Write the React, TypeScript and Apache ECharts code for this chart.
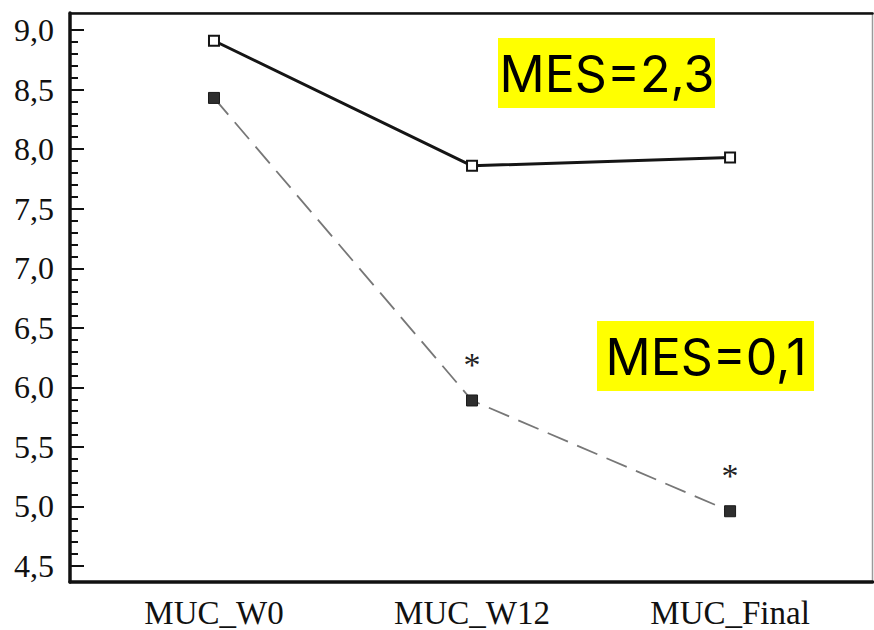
import React, { useEffect, useRef } from "react";
import * as echarts from "echarts";

const categories = ["MUC_W0", "MUC_W12", "MUC_Final"];
const mes23Values = [8.91, 7.86, 7.93];
const mes01Values = [8.43, 5.89, 4.96];
const significant = [false, true, true];
const yTickLabels = [4.5, 5.0, 5.5, 6.0, 6.5, 7.0, 7.5, 8.0, 8.5, 9.0];
const annotations = ["MES=2,3", "MES=0,1"];

const minorTicks: number[] = [];
for (let i = 0; i < yTickLabels.length - 1; i++) {
  for (let k = 1; k < 5; k++) minorTicks.push(Math.round((yTickLabels[i] + k * 0.1) * 10) / 10);
}

export default function App() {
  const ref = useRef<HTMLDivElement>(null);
  useEffect(() => {
    if (!ref.current) return;
    const chart = echarts.init(ref.current, null, { renderer: "svg" });
    const Y_MIN = 4.366;
    const Y_MAX = 9.143;
    const X_MIN = -0.558;
    const X_MAX = 2.552;
    const serif = "Liberation Serif";
    const rect = { left: 70, right: 1.5, top: 13, bottom: 48 };
    chart.setOption({
      animation: false,
      backgroundColor: "#ffffff",
      grid: [
        { ...rect, show: true, borderColor: "#9a9a9a", borderWidth: 1.5, backgroundColor: "transparent" },
        { ...rect },
      ],
      xAxis: [
        {
          type: "value",
          gridIndex: 0,
          min: X_MIN,
          max: X_MAX,
          position: "bottom",
          axisLine: { show: true, onZero: false, lineStyle: { color: "#111", width: 3.5 } },
          axisTick: { show: false },
          splitLine: { show: false },
          axisLabel: {
            customValues: [0, 1, 2],
            formatter: (v: number) => categories[Math.round(v)] ?? "",
            fontFamily: serif,
            fontSize: 33,
            color: "#111",
            margin: 14,
          },
        },
        {
          type: "value",
          gridIndex: 0,
          min: X_MIN,
          max: X_MAX,
          position: "top",
          axisLine: { show: true, onZero: false, lineStyle: { color: "#111", width: 2.5 } },
          axisTick: { show: false },
          axisLabel: { show: false },
          splitLine: { show: false },
        },
        {
          type: "value",
          gridIndex: 1,
          min: X_MIN,
          max: X_MAX,
          show: false,
        },
      ],
      yAxis: [
        {
          type: "value",
          gridIndex: 0,
          min: Y_MIN,
          max: Y_MAX,
          position: "left",
          axisLine: { show: true, onZero: false, lineStyle: { color: "#111", width: 3.5 } },
          axisTick: {
            show: true,
            inside: true,
            length: 8,
            customValues: minorTicks,
            lineStyle: { color: "#111", width: 2 },
          },
          axisLabel: { show: false },
          splitLine: { show: false },
        },
        {
          type: "value",
          gridIndex: 1,
          min: Y_MIN,
          max: Y_MAX,
          position: "left",
          axisLine: { show: false, onZero: false },
          axisTick: {
            show: true,
            inside: true,
            length: 14,
            customValues: yTickLabels,
            lineStyle: { color: "#111", width: 2 },
          },
          axisLabel: {
            customValues: yTickLabels,
            formatter: (v: number) => v.toFixed(1).replace(".", ","),
            fontFamily: serif,
            fontSize: 32,
            color: "#111",
            margin: 16,
          },
          splitLine: { show: false },
        },
      ],
      series: [
        {
          type: "line",
          name: annotations[0],
          xAxisIndex: 0,
          yAxisIndex: 0,
          data: mes23Values.map((v, i) => [i, v]),
          symbol: "rect",
          symbolSize: 10,
          lineStyle: { color: "#151515", width: 3 },
          itemStyle: { color: "#ffffff", borderColor: "#151515", borderWidth: 2 },
          z: 3,
        },
        {
          type: "line",
          name: annotations[1],
          xAxisIndex: 0,
          yAxisIndex: 0,
          data: mes01Values.map((v, i) => ({
            value: [i, v],
            label: significant[i]
              ? {
                  show: true,
                  position: "top",
                  distance: 13,
                  formatter: "*",
                  fontFamily: serif,
                  fontSize: 34,
                  color: "#222",
                }
              : { show: false },
          })),
          symbol: "rect",
          symbolSize: 11,
          lineStyle: { color: "#777777", width: 1.8, type: [22, 10] },
          itemStyle: { color: "#2e2e2e", borderColor: "#1a1a1a", borderWidth: 1 },
          z: 3,
        },
      ],
      graphic: [
        { type: "rect", shape: { x: 498, y: 38, width: 217, height: 70 }, style: { fill: "#ffff00" }, z: 10 },
        {
          type: "text",
          x: 607,
          y: 74,
          style: {
            text: annotations[0],
            fontFamily: "Inter",
            fontSize: 50,
            fill: "#000",
            align: "center",
            verticalAlign: "middle",
          },
          z: 11,
        },
        { type: "rect", shape: { x: 597, y: 321, width: 217, height: 70 }, style: { fill: "#ffff00" }, z: 10 },
        {
          type: "text",
          x: 706,
          y: 357,
          style: {
            text: annotations[1],
            fontFamily: "Inter",
            fontSize: 50,
            fill: "#000",
            align: "center",
            verticalAlign: "middle",
          },
          z: 11,
        },
      ],
    });
    return () => chart.dispose();
  }, []);
  return (
    <div
      ref={ref}
      style={{ position: "fixed", left: 0, top: 0, width: 874, height: 630, background: "#fff" }}
    />
  );
}
